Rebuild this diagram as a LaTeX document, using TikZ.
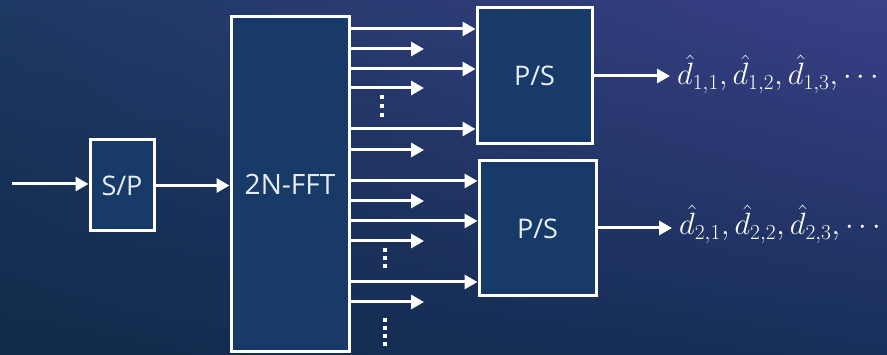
\documentclass[tikz,border=0pt]{standalone}
\usepackage{amsmath}
\usepackage{fontspec}
\setmainfont{Open Sans}
\usetikzlibrary{arrows.meta,positioning,shadings}

\definecolor{bgtl}{HTML}{1D3862}
\definecolor{bgtr}{HTML}{3B3F88}
\definecolor{bgbl}{HTML}{112A4A}
\definecolor{bgbr}{HTML}{17305A}
\definecolor{boxblue}{HTML}{183A68}
\definecolor{txtwhite}{HTML}{E8EEF6}

\tikzset{
  block/.style={draw=white, line width=3pt, fill=boxblue, text=txtwhite,
    inner sep=0pt, font=\fontsize{27}{27}\selectfont},
  sig/.style={white, line width=3pt, -{Triangle[length=13pt,width=14pt]}},
  outlabel/.style={text=white, inner sep=0pt, anchor=base west, font=\fontsize{24}{24}\selectfont},
}
\newcommand{\outseq}[1]{\scalebox{1.24}{$\hat{d}_{#1,1},\hat{d}_{#1,2},\hat{d}_{#1,3},\cdots$}}

\begin{document}
\begin{tikzpicture}[x=1pt,y=-1pt]
        \shade[upper left=bgtl, upper right=bgtr, lower left=bgbl, lower right=bgbr]
          (0,0) rectangle (887,355);
        \useasboundingbox (0,0) rectangle (887,355);

        % blocks
        \node[block, minimum width=64pt, minimum height=91pt] (sp) at (122,185.5) {S/P};
        \node[block, minimum width=118pt, minimum height=335pt,
              font=\fontsize{28}{28}\selectfont] (fft) at (290,184.5) {2N-FFT};
        \node[block, minimum width=115pt, minimum height=136pt] (ps1) at (534.5,76) {P/S};
        \node[block, minimum width=117pt, minimum height=135pt] (ps2) at (537.5,228.5) {P/S};

        % input side
        \coordinate (in) at (12,184);
        \draw[sig] (in) -- (sp.west |- in);
        \draw[sig] (sp.east) -- (fft.west |- sp.east);

        % FFT outputs to the P/S blocks
        \foreach \y in {29,69,129}
          \draw[sig] (fft.east |- 0,\y) -- (ps1.west |- 0,\y);
        \foreach \y in {181,221,282}
          \draw[sig] (fft.east |- 0,\y) -- (ps2.west |- 0,\y);

        % unused outputs
        \foreach \y in {49,88,150,201,241,302} {
          \coordinate (s\y) at (424,\y);
          \draw[sig] (fft.east |- s\y) -- (s\y);
        }

        % dots
        \foreach \y in {97,106,115}
          \fill[white] (380,\y-2) rectangle (384,\y+2);
        \foreach \y in {250,258,266}
          \fill[white] (383,\y-2) rectangle (387,\y+2);
        \foreach \y in {320,328,336,344}
          \fill[white] (383,\y-2) rectangle (387,\y+2);

        % outputs
        \coordinate (o1) at (670,76);
        \coordinate (o2) at (672,228);
        \draw[sig] (ps1.east |- o1) -- (o1);
        \draw[sig] (ps2.east |- o2) -- (o2);
        \node[outlabel] (d1) at (677,85) {\outseq{1}};
        \node[outlabel] (d2) at (679,235) {\outseq{2}};
\end{tikzpicture}
\end{document}
